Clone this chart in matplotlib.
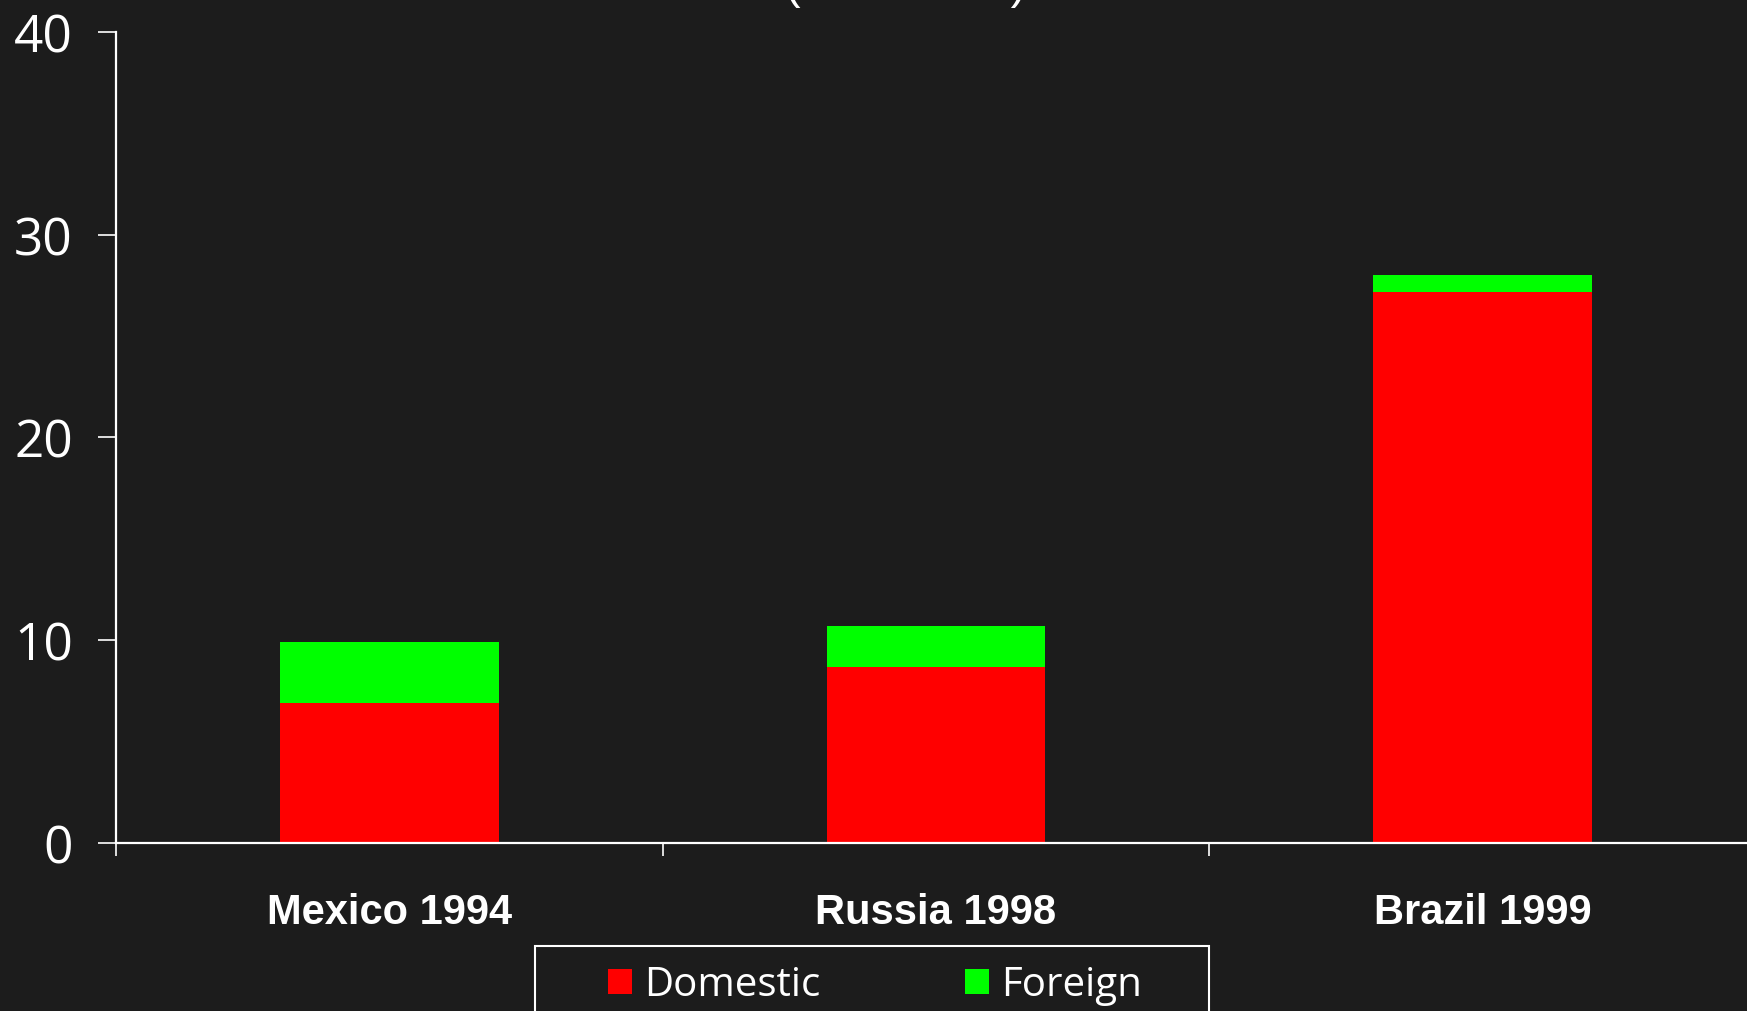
import matplotlib.pyplot as plt
from matplotlib.patches import Rectangle

# bank recapitalisation cost by crisis
crises = ['Mexico 1994', 'Russia 1998', 'Brazil 1999']
domestic = [6.9, 8.7, 27.2]
foreign = [3.0, 2.0, 0.8]
yticks = [0, 10, 20, 30, 40]

bg = '#1c1c1c'
red = '#ff0000'
green = '#00ff00'

fig = plt.figure(figsize=(17.47, 10.12), dpi=100, facecolor=bg)
ax = fig.add_axes([116 / 1747, 168 / 1012, 1640 / 1747, 811 / 1012], facecolor=bg)

x = range(len(crises))
b1 = ax.bar(x, domestic, width=0.4, color=red, label='Domestic')
b2 = ax.bar(x, foreign, width=0.4, bottom=domestic, color=green, label='Foreign')

ax.set_xlim(-0.5, 2.5)
ax.set_ylim(0, 40)

for s in ['top', 'right']:
    ax.spines[s].set_visible(False)
for s in ['left', 'bottom']:
    ax.spines[s].set_color('white')
    ax.spines[s].set_linewidth(1.6)

# y axis
ax.set_yticks(yticks)
ax.set_yticklabels([str(v) for v in yticks], family='Open Sans')
ax.tick_params(axis='y', colors='white', labelsize=37, length=13, width=1.2,
               direction='out', pad=18)

# category boundaries as major ticks, names as minor ticks
ax.set_xticks([-0.5, 0.5, 1.5, 2.5])
ax.set_xticklabels([])
ax.set_xticks(list(x), minor=True)
ax.set_xticklabels(crises, minor=True, family='Liberation Sans',
                   fontweight='bold', fontsize=30, color='white')
ax.tick_params(axis='x', which='major', colors='white', length=9, width=1.2)
ax.tick_params(axis='x', which='minor', length=0, pad=35)

# title, mostly outside the top edge
fig.text(906 / 1747, 1.0 + 2 / 1012, '(% of GDP)', ha='center', va='baseline',
         color='white', fontsize=34, family='Liberation Sans')

# legend
leg = fig.legend(handles=[b1, b2], loc='upper left',
                 bbox_to_anchor=(608 / 1747, 1 - 966 / 1012), ncol=2,
                 frameon=False, borderpad=0, borderaxespad=0,
                 handlelength=0.6, handleheight=0.6, handletextpad=0.3,
                 columnspacing=3.58, prop={'family': 'Open Sans', 'size': 29})
for t in leg.get_texts():
    t.set_color('white')
fig.patches.append(Rectangle((535 / 1747, -0.05), 674 / 1747, (1012 - 947) / 1012 + 0.05,
                             transform=fig.transFigure, fill=False,
                             edgecolor='white', linewidth=1.5))

fig.savefig('out.png', dpi=100, facecolor=bg)
